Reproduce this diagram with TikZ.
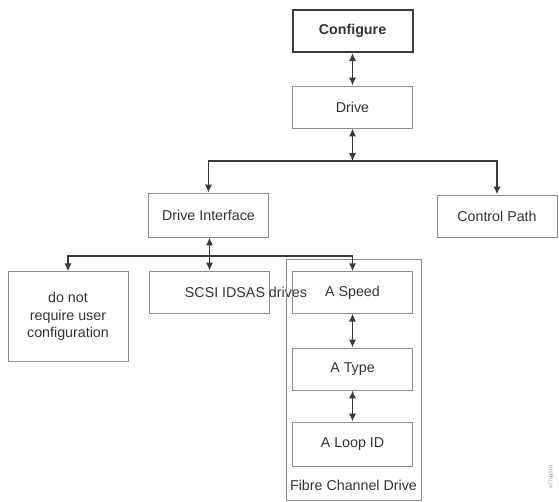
\documentclass[tikz,border=0pt]{standalone}
\usepackage{fontspec}
\setmainfont{Liberation Sans}
\usepackage{tikz}
\usetikzlibrary{arrows.meta,positioning}
\definecolor{Ink}{HTML}{333333}
\definecolor{Frame}{HTML}{8C8C8C}
\definecolor{Dark}{HTML}{3A3A3A}

\begin{document}
\begin{tikzpicture}[x=0.75pt,y=-0.75pt,
  every node/.style={font=\fontsize{10.7}{13}\selectfont,text=Ink,align=center},
  box/.style={draw=Frame,line width=0.7pt,inner sep=0pt,minimum width=90pt,minimum height=31.5pt},
  topbox/.style={box,draw=Dark,line width=1.5pt},
  arr/.style={-{Latex[length=6pt,width=5.5pt]},line width=1.3pt,Dark},
  biarr/.style={{Latex[length=6pt,width=5.5pt]}-{Latex[length=6pt,width=5.5pt]},line width=1.3pt,Dark}
]
\useasboundingbox (0,0) rectangle (559,501);
% top of the tree
\node[topbox,font=\bfseries\fontsize{10.7}{13}\selectfont] (cfg) at (352.5,31) {Configure};
\node[box] (drive) at (352.5,107) {Drive};
\node[box,minimum height=33pt] (di) at (208.5,215) {Drive Interface};
\node[box] (cp) at (497,216) {Control Path};
% interface branches
\node[box,minimum height=67pt] (dnr) at (68,316.5) {do not\\require user\\configuration};
\node[box] (scsi) at (209.5,292) {};
\node (scsilbl) at (246,292) {SCSI IDSAS drives};
% fibre channel group
\draw[Frame,line width=0.7pt] (286,259) rectangle (421,500);
\node[box,minimum height=31pt] (spd) at (352.5,292.5) {A Speed};
\node[box] (typ) at (352.5,369) {A Type};
\node[box,minimum height=33pt] (lid) at (352.5,444) {A Loop ID};
\node (fcl) at (353.5,485) {Fibre Channel Drive};
\node[rotate=90,font=\fontsize{4}{5}\selectfont,text=Frame] (figid) at (551,477) {a77ug318};
% connectors
\coordinate (j1) at (352.5,161);
\coordinate (j2) at (209,256);
\draw[biarr] (cfg) -- (drive);
\draw[biarr] (drive) -- (j1);
\draw[arr] (j1) -| (di.north);
\draw[arr] (j1) -| (cp.north);
\draw[biarr] (di.south -| scsi.north) -- (scsi.north);
\draw[arr] (j2) -| (dnr.north);
\draw[arr] (j2) -| (spd.north);
\draw[biarr] (spd) -- (typ);
\draw[biarr] (typ) -- (lid);
\end{tikzpicture}
\end{document}
